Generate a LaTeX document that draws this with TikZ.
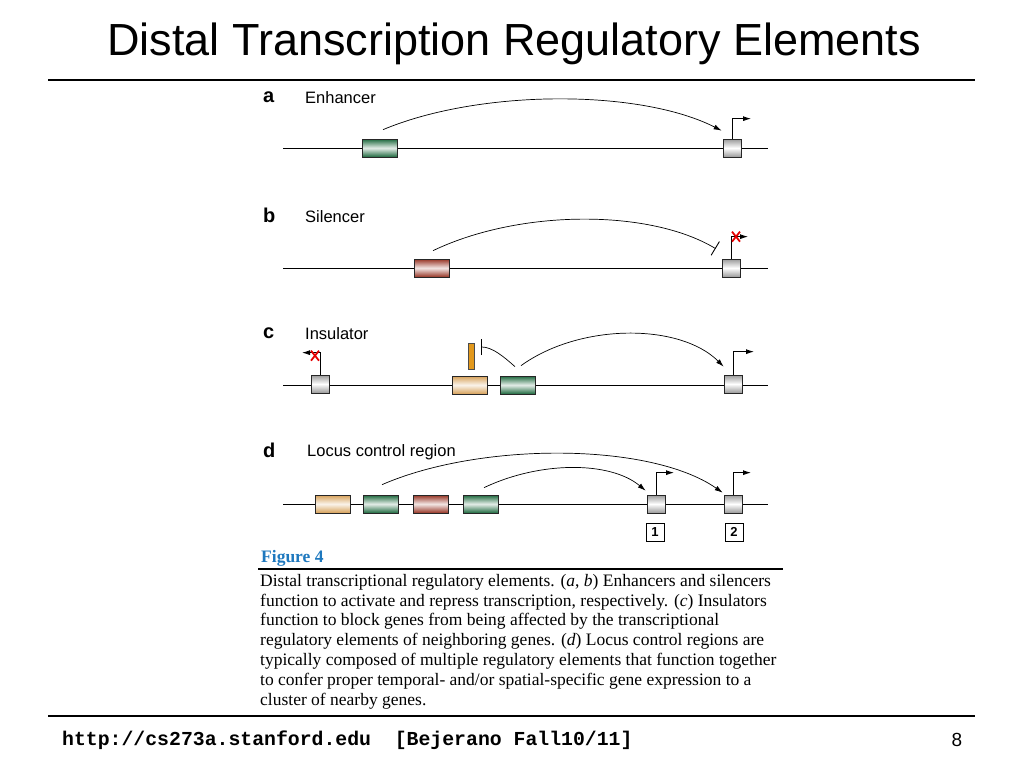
\documentclass[tikz,border=0pt]{standalone}
\usepackage{fontspec}
\setmainfont{Liberation Serif}
\setsansfont{Liberation Sans}
\setmonofont{Liberation Mono}
\usetikzlibrary{arrows.meta,calc}

\definecolor{enhgreen}{RGB}{30,105,62}
\definecolor{silred}{RGB}{150,52,36}
\definecolor{instan}{RGB}{214,160,88}
\definecolor{insgold}{RGB}{226,152,28}
\definecolor{figblue}{RGB}{30,120,190}

\tikzset{
  elem/.style={draw=black!85, line width=.7pt, minimum width=35pt, minimum height=18pt, inner sep=0pt},
  enh/.style={elem, top color=enhgreen, bottom color=enhgreen, middle color=enhgreen!12},
  sil/.style={elem, top color=silred, bottom color=silred, middle color=silred!12},
  ins/.style={elem, top color=instan, bottom color=instan, middle color=instan!12},
  prom/.style={elem, minimum width=18pt, top color=black!40, bottom color=black!40, middle color=white},
  insbar/.style={draw=black!70, line width=.5pt, fill=insgold, minimum width=6pt, minimum height=26pt, inner sep=0pt},
  dna/.style={line width=.9pt},
  loop/.style={line width=.7pt, -{Latex[length=8pt,width=5pt]}},
  block/.style={line width=.7pt, -{Bar[width=16pt,line width=.9pt]}},
  tss/.style={line width=.8pt, -{Latex[length=8pt,width=5pt]}},
  nope/.style={draw=red!90!black, line width=1.8pt},
  rule/.style={line width=2.6pt},
  panel/.style={font=\fontsize{20}{20}\selectfont\sffamily\bfseries, anchor=west, inner sep=0pt},
  tag/.style={font=\fontsize{16.5}{16.5}\selectfont\sffamily, anchor=west, inner sep=0pt},
  numbox/.style={draw, line width=.8pt, minimum size=18pt, inner sep=0pt, font=\fontsize{13}{13}\selectfont\sffamily\bfseries}
}

\begin{document}
\begin{tikzpicture}[x=1pt,y=-1pt]
  \useasboundingbox (0,0) rectangle (1024,768);

  % title
  \node[font=\fontsize{45}{45}\selectfont\sffamily] (title) at (514,44) {Distal Transcription Regulatory Elements};
  \draw[rule] (48,80) -- (975,80);

  % a: enhancer
  \node[panel] (la) at (263,97) {a};
  \node[tag] (ta) at (305,98) {Enhancer};
  \draw[dna] (283,148) -- (768,148);
  \node[enh] (ea) at (380,148) {};
  \node[prom] (pa) at (732,148) {};
  \draw[tss] (pa.north) -- ++(0,-20) -- ++(19,0);
  \draw[loop] ($(ea.north)+(3,-9)$) .. controls (480,89) and (640,89) .. ($(pa.north west)+(-1,-8)$);

  % b: silencer
  \node[panel] (lb) at (263,215) {b};
  \node[tag] (tb) at (305,217) {Silencer};
  \draw[dna] (283,268) -- (768,268);
  \node[sil] (sb) at (432,268) {};
  \node[prom] (pb) at (731,268) {};
  \draw[tss] (pb.north) -- ++(0,-22) -- ++(17,0);
  \draw[block] ($(sb.north)+(1,-8)$) .. controls (520,209) and (650,209) .. ($(pb.north west)+(-6,-10)$);
  \coordinate (xb) at ($(pb.north)+(5,-22)$);
  \draw[nope] (xb) +(-4,-5) -- +(4,5) (xb) +(4,-5) -- +(-4,5);

  % c: insulator
  \node[panel] (lc) at (263,333) {c};
  \node[tag] (tc) at (305,334) {Insulator};
  \draw[dna] (283,385) -- (768,385);
  \node[prom] (pc1) at (320,384) {};
  \draw[tss] (pc1.north) -- ++(0,-22) -- ++(-18,0);
  \coordinate (xc) at ($(pc1.north)+(-5,-19)$);
  \draw[nope] (xc) +(-4,-5) -- +(4,5) (xc) +(4,-5) -- +(-4,5);
  \node[ins] (ic) at (470,385) {};
  \node[enh] (ec) at (518,385) {};
  \node[insbar] (bc) at (471,356) {};
  \node[prom] (pc2) at (733,384) {};
  \draw[tss] (pc2.north) -- ++(0,-23) -- ++(21,0);
  \draw[block] ($(ec.north)+(-3,-9)$) .. controls (503,356) and (492,347) .. (481,347);
  \draw[loop] ($(ec.north)+(3,-10)$) .. controls (580,323) and (680,323) .. ($(pc2.north west)+(0,-8)$);

  % d: locus control region
  \node[panel] (ld) at (263,450) {d};
  \node[tag] (td) at (307,452) {Locus control region};
  \draw[dna] (283,504) -- (768,504);
  \node[ins] (id) at (333,504) {};
  \node[enh] (ed1) at (381,504) {};
  \node[sil] (sd) at (431,504) {};
  \node[enh] (ed2) at (481,504) {};
  \node[prom] (pd1) at (656,504) {};
  \node[prom] (pd2) at (733,504) {};
  \draw[tss] (pd1.north) -- ++(0,-22) -- ++(18,0);
  \draw[tss] (pd2.north) -- ++(0,-22) -- ++(18,0);
  \node[numbox] (n1) at (655,532) {1};
  \node[numbox] (n2) at (734,532) {2};
  \draw[loop] ($(ed1.north)+(1,-10)$) .. controls (480,442) and (650,442) .. ($(pd2.north west)+(-1,-2)$);
  \draw[loop] ($(ed2.north)+(3,-7)$) .. controls (540,461) and (610,461) .. ($(pd1.north west)+(-1,-4)$);

  % caption
  \node[anchor=base west, inner sep=0pt, text=figblue, font=\fontsize{17.5}{17.5}\selectfont\bfseries] (fig) at (261,562) {Figure 4};
  \draw[line width=1.6pt] (258,569) -- (783,569);
  \node[anchor=north west, inner sep=0pt, align=left, font=\fontsize{17.5}{19.8}\selectfont] (cap) at (260,574) {Distal transcriptional regulatory elements. (\textit{a}, \textit{b}) Enhancers and silencers\\
    function to activate and repress transcription, respectively. (\textit{c}) Insulators\\
    function to block genes from being affected by the transcriptional\\
    regulatory elements of neighboring genes. (\textit{d}) Locus control regions are\\
    typically composed of multiple regulatory elements that function together\\
    to confer proper temporal- and/or spatial-specific gene expression to a\\
    cluster of nearby genes.};

  % footer
  \draw[rule] (48,716) -- (975,716);
  \node[anchor=west, inner sep=0pt, font=\fontsize{19.8}{19.8}\selectfont\ttfamily\bfseries] (url) at (62,740) {http://cs273a.stanford.edu\ \ [Bejerano Fall10/11]};
  \node[font=\fontsize{19}{19}\selectfont\sffamily] (pg) at (957,740) {8};
\end{tikzpicture}
\end{document}
